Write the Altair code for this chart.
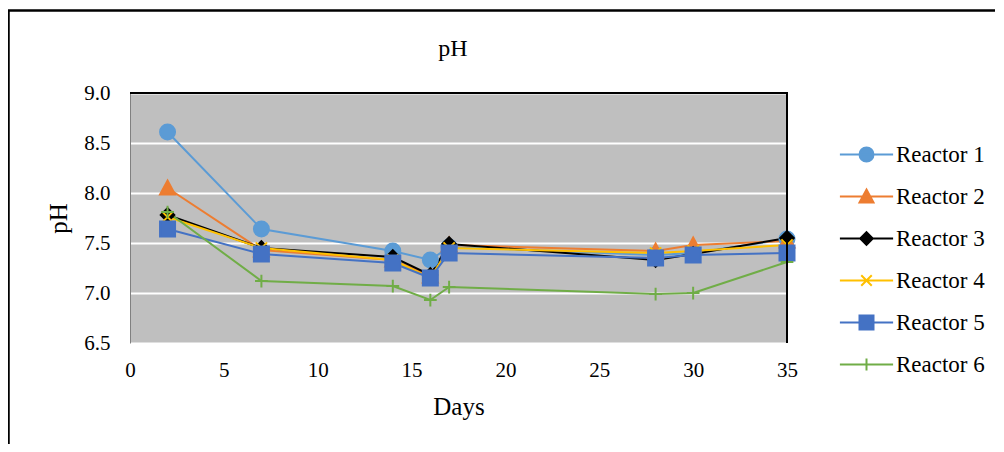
import altair as alt
import pandas as pd

days = [2, 7, 14, 16, 17, 28, 30, 35]
reactors = ["Reactor 1", "Reactor 2", "Reactor 3", "Reactor 4", "Reactor 5", "Reactor 6"]
r1 = [8.61, 7.64, 7.42, 7.33, 7.46, 7.38, 7.40, 7.54]
r2 = [8.05, 7.43, 7.33, 7.17, 7.48, 7.42, 7.48, 7.52]
r3 = [7.78, 7.45, 7.36, 7.18, 7.49, 7.33, 7.39, 7.55]
r4 = [7.76, 7.45, 7.33, 7.15, 7.45, 7.40, 7.42, 7.48]
r5 = [7.64, 7.39, 7.30, 7.15, 7.40, 7.35, 7.38, 7.40]
r6 = [7.81, 7.12, 7.07, 6.93, 7.06, 6.99, 7.00, 7.31]
colors = ["#5B9BD5", "#ED7D31", "#000000", "#FFC000", "#4472C4", "#70AD47"]
y_ticks = [6.5, 7.0, 7.5, 8.0, 8.5, 9.0]
x_ticks = [0, 5, 10, 15, 20, 25, 30, 35]
chart_title = ["pH"]

series = [r1, r2, r3, r4, r5, r6]
rows = []
for name, vals in zip(reactors, series):
    for d, v in zip(days, vals):
        rows.append({"Day": d, "pH": v, "Reactor": name, "order": reactors.index(name)})
df = pd.DataFrame(rows)

# marker paths (unit coordinates)
marker_paths = [
    "M1,0A1,1,0,1,1,-1,0A1,1,0,1,1,1,0Z",
    "M0,-1L1,0.85L-1,0.85Z",
    "M0,-0.9L0.9,0L0,0.9L-0.9,0Z",
    "M-0.75,-0.75L0.75,0.75M-0.75,0.75L0.75,-0.75",
    "M-1,-1H1V1H-1Z",
    "M0,-0.85V0.85M-0.85,0H0.85",
]
seg = "M-3.8,0L3.8,0"
legend_paths = [seg + p for p in marker_paths]

FONT = "Liberation Serif"
W, H = 657, 250

x_enc = alt.X("Day:Q", scale=alt.Scale(domain=[0, 35], nice=False),
              axis=alt.Axis(values=x_ticks, title="Days", grid=False, domain=False,
                            ticks=False, labelPadding=16, titlePadding=14, labelFlush=False,
                            labelFontSize=21, titleFontSize=25, labelFont=FONT,
                            titleFont=FONT, titleFontWeight="normal",
                            labelColor="black", titleColor="black"))
y_enc = alt.Y("pH:Q", scale=alt.Scale(domain=[6.5, 9.0], nice=False, zero=False),
              axis=alt.Axis(values=y_ticks, format=".1f", title="pH", grid=True,
                            gridColor="white", gridWidth=2, domain=True,
                            domainColor="#808080", domainWidth=1, ticks=False,
                            labelPadding=20, titlePadding=12, labelFlush=False,
                            labelFontSize=21, titleFontSize=25, labelFont=FONT,
                            titleFont=FONT, titleFontWeight="normal",
                            labelColor="black", titleColor="black"))

color_scale = alt.Scale(domain=reactors, range=colors)

lines = alt.Chart(df).mark_line(strokeWidth=2).encode(
    x=x_enc, y=y_enc,
    color=alt.Color("Reactor:N", scale=color_scale, legend=None),
    order="Day:Q",
)

points = alt.Chart(df).mark_point(filled=True, size=225, opacity=1, strokeWidth=2).encode(
    x="Day:Q", y="pH:Q",
    fill=alt.Fill("Reactor:N", scale=color_scale, legend=None),
    stroke=alt.Stroke("Reactor:N", scale=color_scale, legend=None),
    shape=alt.Shape("Reactor:N", scale=alt.Scale(domain=reactors, range=marker_paths), legend=None),
    order="order:Q",
)

legend_layer = alt.Chart(df).transform_filter("false").mark_point(
    filled=True, size=196, opacity=1, strokeWidth=2
).encode(
    x="Day:Q", y="pH:Q",
    fill=alt.Fill("Reactor:N", scale=alt.Scale(domain=reactors, range=colors), title=None,
                  legend=alt.Legend(orient="none", legendX=725, legendY=50, title=None,
                                    labelFont=FONT, labelFontSize=23, labelColor="black",
                                    labelOffset=18, rowPadding=18, symbolStrokeWidth=2,
                                    symbolSize=196, padding=0)),
    stroke=alt.Stroke("Reactor:N", scale=alt.Scale(domain=reactors, range=colors), title=None),
    shape=alt.Shape("Reactor:N", scale=alt.Scale(domain=reactors, range=legend_paths), title=None),
)

one = df[(df["order"] == 0) & (df["Day"] == 2)]

frame = alt.Chart(one).mark_rect(
    fill=None, stroke="black", strokeWidth=2.5
).encode(
    x=alt.value(-121.5), x2=alt.value(890), y=alt.value(-82.5), y2=alt.value(380)
)

top_edge = alt.Chart(one).mark_rule(color="black", strokeWidth=2).encode(
    x=alt.value(0), x2=alt.value(W + 1), y=alt.value(0)
)
right_edge = alt.Chart(one).mark_rule(color="black", strokeWidth=2).encode(
    x=alt.value(W), y=alt.value(0), y2=alt.value(H)
)

title_text = alt.Chart(pd.DataFrame({"t": chart_title})).mark_text(
    font=FONT, fontSize=24, color="black", baseline="alphabetic", align="center"
).encode(text="t:N", x=alt.value(323), y=alt.value(-37))

chart = alt.layer(frame, lines, points, top_edge, right_edge, title_text, legend_layer).resolve_scale(
    shape="independent", fill="independent", stroke="independent"
).properties(
    width=W, height=H,
    background="white",
    autosize=alt.AutoSizeParams(type="none"),
    padding={"left": 122, "top": 85, "right": 208, "bottom": 101},
).configure_view(
    fill="#BFBFBF", strokeWidth=0
).configure_legend(
    labelFont=FONT, labelFontSize=23, labelColor="black"
).configure_axis(
    labelFont=FONT, titleFont=FONT
)

chart.save("out.html", embed_options={"renderer": "svg", "actions": False})
